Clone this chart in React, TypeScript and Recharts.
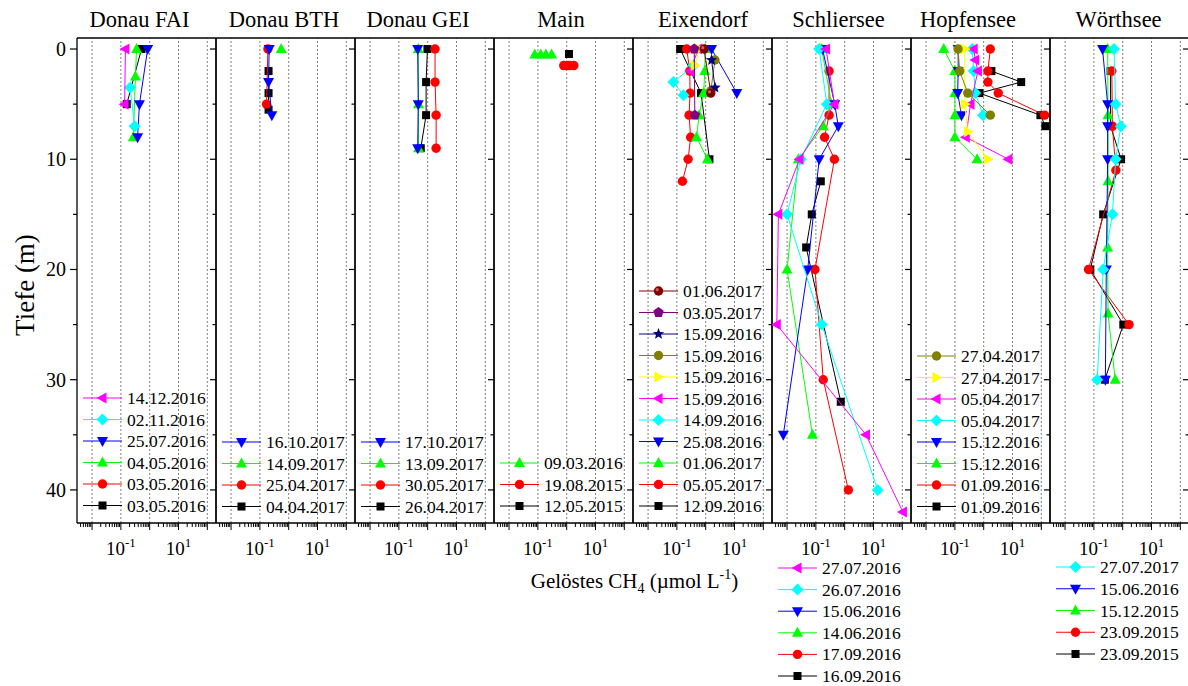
import React from 'react';
import { ScatterChart, Scatter, XAxis, YAxis, ReferenceLine, Legend } from 'recharts';

type Pair = [number, number]; // [depth m, CH4 µmol/L]

const FONT = '"Liberation Serif", "Times New Roman", serif';

// ---------- axis ticks ----------
const X_TICKS = [
  0.004, 0.005, 0.006, 0.007, 0.008, 0.009,
  0.01, 0.02, 0.03, 0.04, 0.05, 0.06, 0.07, 0.08, 0.09,
  0.1, 0.2, 0.3, 0.4, 0.5, 0.6, 0.7, 0.8, 0.9,
  1, 2, 3, 4, 5, 6, 7, 8, 9,
  10, 20, 30, 40, 50, 60, 70, 80, 90, 100,
];
const X_DECADES = [0.01, 0.1, 1, 10, 100];
const X_TICK_LABELS = [
  { value: 0.1, exp: '-1' },
  { value: 10, exp: '1' },
];
const Y_TICKS = [0, 5, 10, 15, 20, 25, 30, 35, 40];
const Y_TICK_LABELS = [0, 10, 20, 30, 40];

const TITLES = ['Donau FAI', 'Donau BTH', 'Donau GEI', 'Main', 'Eixendorf', 'Schliersee', 'Hopfensee', 'Wörthsee'];

// ---------- Donau FAI ----------
const FAI_DATES = ['14.12.2016', '02.11.2016', '25.07.2016', '04.05.2016', '03.05.2016', '03.05.2016'];
const FAI_141216: Pair[] = [[0, 0.144], [5, 0.135]];
const FAI_021116: Pair[] = [[3.5, 0.21], [7, 0.3]];
const FAI_250716: Pair[] = [[0, 0.85], [5, 0.44], [8, 0.38]];
const FAI_040516: Pair[] = [[0, 0.35], [2.5, 0.32], [8, 0.27]];
const FAI_030516R: Pair[] = [];
const FAI_030516K: Pair[] = [[0, 0.52], [5, 0.16]];

// ---------- Donau BTH ----------
const BTH_DATES = ['16.10.2017', '14.09.2017', '25.04.2017', '04.04.2017'];
const BTH_161017: Pair[] = [[0, 0.21], [3, 0.2], [6, 0.26]];
const BTH_140917: Pair[] = [[0, 0.55]];
const BTH_250417: Pair[] = [[0, 0.19], [5, 0.17]];
const BTH_040417: Pair[] = [[2, 0.2], [4, 0.2], [5.5, 0.2]];

// ---------- Donau GEI ----------
const GEI_DATES = ['17.10.2017', '13.09.2017', '30.05.2017', '26.04.2017'];
const GEI_171017: Pair[] = [[0, 0.45], [5, 0.47], [9, 0.45]];
const GEI_130917: Pair[] = [[0, 0.47], [5, 0.48], [9, 0.48]];
const GEI_300517: Pair[] = [[0, 1.8], [3, 1.8], [6, 1.96], [9, 1.96]];
const GEI_260417: Pair[] = [[0, 0.98], [3, 0.88], [6, 0.88], [9, 0.575]];

// ---------- Main ----------
const MAIN_DATES = ['09.03.2016', '19.08.2015', '12.05.2015'];
const MAIN_090316: Pair[] = [[0.5, 0.078], [0.5, 0.125], [0.5, 0.19], [0.5, 0.3]];
const MAIN_190815: Pair[] = [[1.5, 0.79], [1.5, 0.99], [1.5, 1.26], [1.5, 1.77]];
const MAIN_120515: Pair[] = [[0.45, 1.2]];

// ---------- Eixendorf ----------
const EIX_DATES = ['01.06.2017', '03.05.2017', '15.09.2016', '15.09.2016', '15.09.2016', '15.09.2016', '14.09.2016', '25.08.2016', '01.06.2017', '05.05.2017', '12.09.2016'];
const EIX_010617M: Pair[] = [[0, 0.88], [4, 1.5]];
const EIX_030517: Pair[] = [[0, 0.4], [6, 0.42]];
const EIX_150916S: Pair[] = [[1, 1.6], [3.5, 2.1]];
const EIX_150916O: Pair[] = [[1, 2.1], [3.8, 1.5]];
const EIX_150916Y: Pair[] = [[0, 0.6], [1.5, 0.42]];
const EIX_150916M: Pair[] = [[0, 0.55], [2, 0.29]];
const EIX_140916: Pair[] = [[1.5, 0.38], [3, 0.076], [4.2, 0.17]];
const EIX_250816: Pair[] = [[0, 1.6], [4, 12]];
const EIX_010617G: Pair[] = [[0, 0.95], [2, 0.93], [4, 0.85], [6, 0.59], [8, 0.48], [10, 1.15]];
const EIX_050517: Pair[] = [[0, 0.22], [2, 0.28], [4, 0.287], [6, 0.265], [8, 0.3], [10, 0.245], [12, 0.156]];
const EIX_120916: Pair[] = [[0, 0.13], [4, 0.69], [10, 1.35]];

// ---------- Schliersee ----------
const SCH_DATES = ['27.07.2016', '26.07.2016', '15.06.2016', '14.06.2016', '17.09.2016', '16.09.2016'];
const SCH_270716: Pair[] = [[0, 0.226], [5, 0.44], [10, 0.027], [15, 0.005], [25, 0.0044], [35, 5.5], [42, 105]];
const SCH_260716: Pair[] = [[0, 0.13], [5, 0.24], [10, 0.03], [15, 0.01], [25, 0.16], [40, 14]];
const SCH_150616: Pair[] = [[0, 0.17], [5, 0.45], [7, 0.6], [10, 0.13], [20, 0.052], [35, 0.0074]];
const SCH_140616: Pair[] = [[0, 0.16], [5, 0.35], [7, 0.18], [10, 0.0246], [20, 0.01], [35, 0.076]];
const SCH_170916: Pair[] = [[2, 0.287], [6, 0.287], [8, 0.2], [10, 0.44], [20, 0.093], [30, 0.18], [40, 1.34]];
const SCH_160916: Pair[] = [[12, 0.148], [15, 0.072], [18, 0.046], [32, 0.73]];

// ---------- Hopfensee ----------
const HOP_DATES = ['27.04.2017', '27.04.2017', '05.04.2017', '05.04.2017', '15.12.2016', '15.12.2016', '01.09.2016', '01.09.2016'];
const HOP_270417O: Pair[] = [[0, 0.129], [2, 0.147], [4, 0.28], [6, 1.7]];
const HOP_270417Y: Pair[] = [[0, 0.22], [5, 0.22], [7.5, 0.28], [10, 1.38]];
const HOP_050417M: Pair[] = [[0, 0.45], [1, 0.51], [2, 0.63], [5, 0.35], [8, 0.24], [10, 7.2]];
const HOP_050417C: Pair[] = [[0, 0.4], [2, 0.45], [4, 0.51], [6, 0.95]];
const HOP_151216B: Pair[] = [[0, 0.13], [2, 0.13], [4, 0.125], [6, 0.17]];
const HOP_151216G: Pair[] = [[0, 0.041], [2, 0.1], [4, 0.1], [6, 0.1], [8, 0.1], [10, 0.59]];
const HOP_010916R: Pair[] = [[0, 1.7], [2, 1.4], [3, 1.4], [4, 3.2], [6, 130]];
const HOP_010916K: Pair[] = [[2, 1.85], [3, 20], [4, 0.71], [6, 93], [7, 138]];

// ---------- Wörthsee ----------
const WOE_DATES = ['27.07.2017', '15.06.2016', '15.12.2015', '23.09.2015', '23.09.2015'];
const WOE_270717: Pair[] = [[0, 0.5], [5, 0.57], [7, 0.86], [10, 0.57], [15, 0.44], [20, 0.21], [30, 0.13]];
const WOE_150616: Pair[] = [[0, 0.2], [5, 0.3], [7, 0.3], [10, 0.3], [20, 0.27], [30, 0.25]];
const WOE_151215: Pair[] = [[0, 0.3], [6, 0.31], [12, 0.31], [18, 0.3], [24, 0.31], [30, 0.55]];
const WOE_230915R: Pair[] = [[2, 0.42], [7, 0.44], [11, 0.58], [20, 0.065], [25, 1.66]];
const WOE_230915K: Pair[] = [[2, 0.38], [7, 0.38], [10, 0.88], [15, 0.21], [20, 0.075], [25, 1.05], [30, 0.24]];

// ---------- styles (kept apart from data) ----------
const STYLES: Record<string, { color: string; shape: string }> = {
  magenta: { color: '#FF00FF', shape: 'triLeft' },
  cyan: { color: '#00FFFF', shape: 'diamond' },
  blue: { color: '#0000FF', shape: 'triDown' },
  green: { color: '#00FF00', shape: 'triUp' },
  red: { color: '#FF0000', shape: 'circle' },
  black: { color: '#000000', shape: 'square' },
  yellow: { color: '#FFFF00', shape: 'triRight' },
  olive: { color: '#808000', shape: 'circle' },
  navy: { color: '#000080', shape: 'star' },
  purple: { color: '#800080', shape: 'pentagon' },
  maroon: { color: '#800000', shape: 'ball' },
};

const PANELS = [
  { dates: FAI_DATES, series: [FAI_141216, FAI_021116, FAI_250716, FAI_040516, FAI_030516R, FAI_030516K], styles: ['magenta', 'cyan', 'blue', 'green', 'red', 'black'] },
  { dates: BTH_DATES, series: [BTH_161017, BTH_140917, BTH_250417, BTH_040417], styles: ['blue', 'green', 'red', 'black'] },
  { dates: GEI_DATES, series: [GEI_171017, GEI_130917, GEI_300517, GEI_260417], styles: ['blue', 'green', 'red', 'black'] },
  { dates: MAIN_DATES, series: [MAIN_090316, MAIN_190815, MAIN_120515], styles: ['green', 'red', 'black'] },
  { dates: EIX_DATES, series: [EIX_010617M, EIX_030517, EIX_150916S, EIX_150916O, EIX_150916Y, EIX_150916M, EIX_140916, EIX_250816, EIX_010617G, EIX_050517, EIX_120916], styles: ['maroon', 'purple', 'navy', 'olive', 'yellow', 'magenta', 'cyan', 'blue', 'green', 'red', 'black'] },
  { dates: SCH_DATES, series: [SCH_270716, SCH_260716, SCH_150616, SCH_140616, SCH_170916, SCH_160916], styles: ['magenta', 'cyan', 'blue', 'green', 'red', 'black'] },
  { dates: HOP_DATES, series: [HOP_270417O, HOP_270417Y, HOP_050417M, HOP_050417C, HOP_151216B, HOP_151216G, HOP_010916R, HOP_010916K], styles: ['olive', 'yellow', 'magenta', 'cyan', 'blue', 'green', 'red', 'black'] },
  { dates: WOE_DATES, series: [WOE_270717, WOE_150616, WOE_151215, WOE_230915R, WOE_230915K], styles: ['cyan', 'blue', 'green', 'red', 'black'] },
];

// ---------- layout ----------
const PANEL_LEFT = [77, 216, 355, 494, 633, 772, 911, 1050];
const PW = 139;
const PT = 38;
const PB = 523;
const H = 686;
const AX = 1; // axis band thickness
const TITLE_X = [139.5, 284, 418, 561, 703, 838.5, 968, 1118.5];
const LEGEND_FIRST_Y = [398, 441.5, 441.5, 463, 291, 568, 355.5, 567];
const LEGEND_STEP = [21.5, 21.5, 21.5, 21.5, 21.5, 21.6, 21.5, 21.75];

const isMajor = (v: number) => {
  const l = Math.log10(v);
  return Math.abs(l - Math.round(l)) < 1e-9;
};

function Marker({ shape, color, cx, cy }: { shape: string; color: string; cx: number; cy: number }) {
  if (cx == null || cy == null || isNaN(cx) || isNaN(cy)) return <g />;
  switch (shape) {
    case 'square':
      return <rect x={cx - 4} y={cy - 4} width={8} height={8} fill={color} />;
    case 'circle':
      return <circle cx={cx} cy={cy} r={4.7} fill={color} />;
    case 'ball':
      return (
        <g>
          <circle cx={cx} cy={cy} r={4.7} fill={color} />
          <circle cx={cx - 1.3} cy={cy - 1.3} r={1.6} fill="#c86060" />
        </g>
      );
    case 'triUp':
      return <polygon points={`${cx},${cy - 6} ${cx + 5.5},${cy + 4} ${cx - 5.5},${cy + 4}`} fill={color} />;
    case 'triDown':
      return <polygon points={`${cx},${cy + 6} ${cx + 5.5},${cy - 4} ${cx - 5.5},${cy - 4}`} fill={color} />;
    case 'triLeft':
      return <polygon points={`${cx - 6},${cy} ${cx + 4},${cy - 5.5} ${cx + 4},${cy + 5.5}`} fill={color} />;
    case 'triRight':
      return <polygon points={`${cx + 6},${cy} ${cx - 4},${cy - 5.5} ${cx - 4},${cy + 5.5}`} fill={color} />;
    case 'diamond':
      return <polygon points={`${cx},${cy - 6} ${cx + 6},${cy} ${cx},${cy + 6} ${cx - 6},${cy}`} fill={color} />;
    case 'star': {
      const pts: string[] = [];
      for (let k = 0; k < 10; k++) {
        const r = k % 2 === 0 ? 6 : 2.6;
        const a = -Math.PI / 2 + (k * Math.PI) / 5;
        pts.push(`${cx + r * Math.cos(a)},${cy + r * Math.sin(a)}`);
      }
      return <polygon points={pts.join(' ')} fill={color} />;
    }
    case 'pentagon': {
      const pts: string[] = [];
      for (let k = 0; k < 5; k++) {
        const a = -Math.PI / 2 + (k * 2 * Math.PI) / 5;
        pts.push(`${cx + 5.5 * Math.cos(a)},${cy + 5.5 * Math.sin(a)}`);
      }
      return <polygon points={pts.join(' ')} fill={color} />;
    }
    default:
      return <circle cx={cx} cy={cy} r={4.5} fill={color} />;
  }
}

const BottomTick = (p: any) => {
  const v = p.payload.value;
  const lab = X_TICK_LABELS.find((l) => Math.abs(l.value - v) < 1e-12);
  return (
    <g>
      <line x1={p.x} x2={p.x} y1={p.y} y2={p.y + (isMajor(v) ? 7 : 4)} stroke="#000" strokeWidth={1} />
      {lab && (
        <text x={p.x} y={p.y + 32} textAnchor="middle" fontSize={19} fontFamily={FONT} fill="#000">
          10<tspan dy={-8} fontSize={13}>{lab.exp}</tspan>
        </text>
      )}
    </g>
  );
};

const TopTick = (p: any) => {
  const v = p.payload.value;
  return <line x1={p.x} x2={p.x} y1={p.y} y2={p.y + (isMajor(v) ? 6 : 3)} stroke="#000" strokeWidth={1} />;
};

const RightTick = (p: any) => {
  const v = p.payload.value;
  const major = v % 10 === 0;
  return <line x1={p.x} x2={p.x - (major ? 6 : 3.5)} y1={p.y} y2={p.y} stroke="#000" strokeWidth={1.2} />;
};

const LeftTick = (p: any) => {
  const v = p.payload.value;
  const labelled = Y_TICK_LABELS.includes(v);
  return (
    <g>
      <line x1={p.x} x2={p.x - (labelled ? 7 : 4)} y1={p.y} y2={p.y} stroke="#000" strokeWidth={1.2} />
      {labelled && (
        <text x={p.x - 11} y={p.y + 7} textAnchor="end" fontSize={20} fontFamily={FONT} fill="#000">
          {v}
        </text>
      )}
    </g>
  );
};

function LegendBox({ idx }: { idx: number }) {
  const cfg = PANELS[idx];
  const step = LEGEND_STEP[idx];
  const n = cfg.dates.length;
  return (
    <svg width={150} height={n * step + 14} style={{ display: 'block', overflow: 'visible' }}>
      {cfg.dates.map((d, k) => {
        const y = 12 + k * step;
        const st = STYLES[cfg.styles[k]];
        return (
          <g key={k}>
            <line x1={6} x2={45} y1={y} y2={y} stroke={st.color} strokeWidth={1} />
            <Marker shape={st.shape} color={st.color} cx={25.5} cy={y} />
            <text x={50} y={y + 6} fontSize={17.5} fontFamily={FONT} fill="#000">
              {d}
            </text>
          </g>
        );
      })}
    </svg>
  );
}

function Panel({ idx }: { idx: number }) {
  const cfg = PANELS[idx];
  const plotLeft = PANEL_LEFT[idx];
  const first = idx === 0;
  const mL = (first ? plotLeft : 12) - AX;
  const mR = 12 - AX;
  const W = mL + AX + PW + AX + mR;
  const order = cfg.series.map((_, k) => k).reverse();
  const axisLine = { stroke: '#000', strokeWidth: 1.3 };
  return (
    <div style={{ position: 'absolute', left: plotLeft - mL - AX, top: 0 }}>
      <ScatterChart width={W} height={H} margin={{ top: PT - AX, right: mR, bottom: H - PB - AX, left: mL }}>
        <XAxis
          xAxisId="b" type="number" dataKey="c" scale="log" domain={[0.003, 200]} allowDataOverflow
          ticks={X_TICKS} interval={0} height={AX} tickSize={0} tickMargin={0} tickLine={false}
          axisLine={axisLine} tick={BottomTick}
        />
        <XAxis
          xAxisId="t" orientation="top" type="number" scale="log" domain={[0.003, 200]} allowDataOverflow
          ticks={X_TICKS} interval={0} height={AX} tickSize={0} tickMargin={0} tickLine={false}
          axisLine={axisLine} tick={TopTick}
        />
        <YAxis
          yAxisId="l" type="number" dataKey="d" domain={[-1, 43]} reversed allowDataOverflow
          ticks={Y_TICKS} interval={0} width={AX} tickSize={0} tickMargin={0} tickLine={false}
          axisLine={axisLine} tick={first ? LeftTick : false}
        />
        <YAxis
          yAxisId="r" orientation="right" type="number" domain={[-1, 43]} reversed allowDataOverflow
          ticks={Y_TICKS} interval={0} width={AX} tickSize={0} tickMargin={0} tickLine={false}
          axisLine={axisLine} tick={RightTick}
        />
        {X_DECADES.map((v) => (
          <ReferenceLine key={v} x={v} xAxisId="b" yAxisId="l" stroke="#808080" strokeWidth={1} strokeDasharray="2 2" />
        ))}
        {order.map((k) => {
          const st = STYLES[cfg.styles[k]];
          const data = cfg.series[k].map(([d, c]) => ({ d, c }));
          return (
            <Scatter
              key={k}
              name={`${cfg.dates[k]}-${k}`}
              data={data}
              xAxisId="b"
              yAxisId="l"
              fill={st.color}
              line={{ stroke: st.color, strokeWidth: 1 }}
              lineType="joint"
              isAnimationActive={false}
              shape={(p: any) => <Marker shape={st.shape} color={st.color} cx={p.cx} cy={p.cy} />}
            />
          );
        })}
        <Legend
          layout="vertical"
          align="center"
          verticalAlign="middle"
          wrapperStyle={{ left: mL + AX, top: LEGEND_FIRST_Y[idx] - 12, width: 150 }}
          content={() => <LegendBox idx={idx} />}
        />
      </ScatterChart>
    </div>
  );
}

export default function App() {
  return (
    <div style={{ position: 'absolute', left: 0, top: 0, width: 1188, height: 686, background: '#fff', overflow: 'hidden' }}>
      {PANELS.map((_, i) => (
        <Panel key={i} idx={i} />
      ))}
      <svg width={1188} height={686} style={{ position: 'absolute', left: 0, top: 0, pointerEvents: 'none' }}>
        {TITLES.map((t, i) => (
          <text key={t} x={TITLE_X[i]} y={27} textAnchor="middle" fontSize={22.5} fontFamily={FONT} fill="#000">
            {t}
          </text>
        ))}
        <text x={34} y={285} transform="rotate(-90 34 285)" textAnchor="middle" fontSize={27} fontFamily={FONT} fill="#000">
          Tiefe (m)
        </text>
        <text x={634.5} y={588} textAnchor="middle" fontSize={21} fontFamily={FONT} fill="#000">
          Gelöstes CH<tspan dy={5} fontSize={14}>4</tspan>
          <tspan dy={-5}> (µmol L</tspan>
          <tspan dy={-9} fontSize={14}>-1</tspan>
          <tspan dy={9}>)</tspan>
        </text>
      </svg>
    </div>
  );
}
